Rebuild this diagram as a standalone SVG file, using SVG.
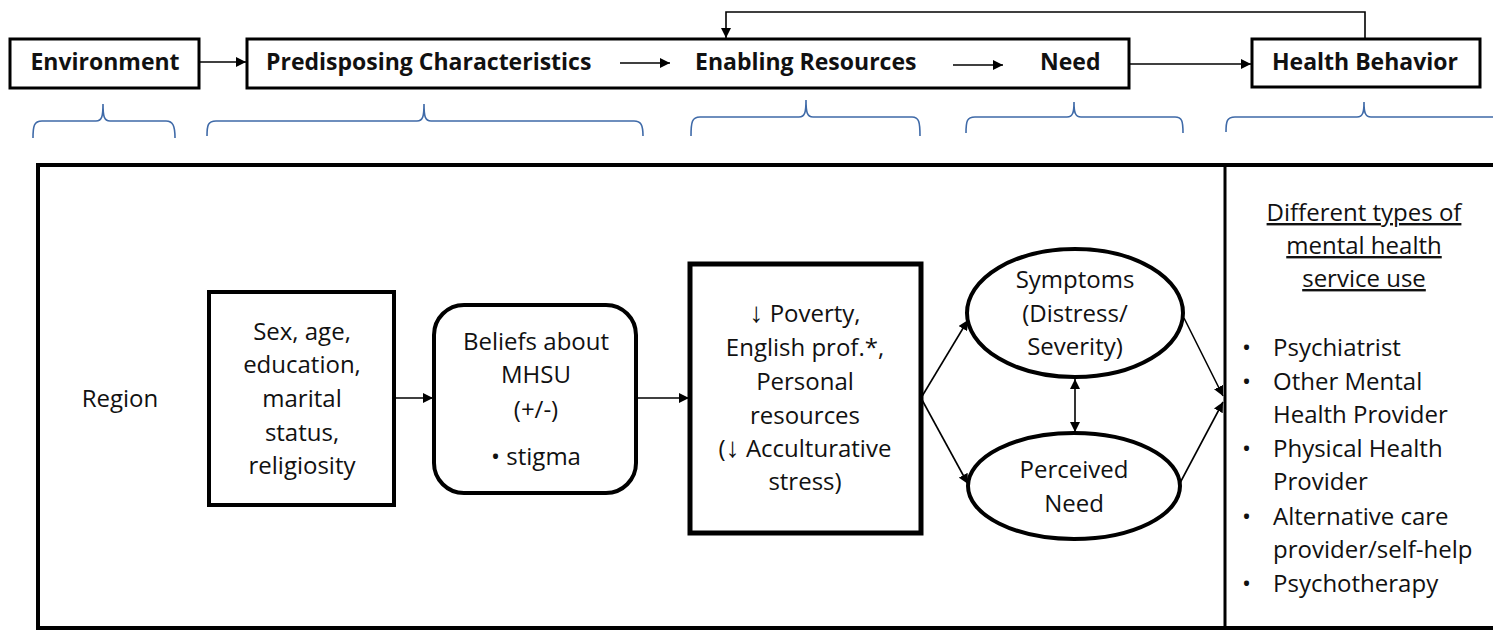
<svg xmlns="http://www.w3.org/2000/svg" width="1493" height="630" viewBox="0 0 1493 630">
<style>
text{font-family:"Open Sans","Liberation Sans",sans-serif;fill:#111}
.t{font-size:23px;font-weight:bold}
.b{font-size:24px}
.c{text-anchor:middle}
.ar{font-family:"Liberation Sans","DejaVu Sans",sans-serif;font-size:28px;fill:#111}
.box{fill:#fff;stroke:#000}
.ln{fill:none;stroke:#000;stroke-width:1.6}
.br{fill:none;stroke:#3f6aa8;stroke-width:1.6}
</style>
<defs>
<marker id="ah" viewBox="0 0 10 10" refX="10" refY="5" markerWidth="10" markerHeight="10" markerUnits="userSpaceOnUse" orient="auto-start-reverse">
<path d="M0,0 L10,5 L0,10 z" fill="#000"/>
</marker>
</defs>
<rect width="1493" height="630" fill="#fff"/>

<g id="outer">
<rect x="38" y="165" width="1480" height="463" fill="none" stroke="#000" stroke-width="4"/>
<line x1="1225" y1="165" x2="1225" y2="630" stroke="#000" stroke-width="3"/>
</g>

<g id="environment">
<rect class="box" x="10" y="39" width="189" height="49" stroke-width="3"/>
<text class="t c" x="105" y="70">Environment</text>
</g>
<g id="model-bar">
<rect class="box" x="247" y="39" width="882" height="49" stroke-width="3"/>
<text class="t" x="266" y="70">Predisposing Characteristics</text>
<text class="t" x="695" y="70">Enabling Resources</text>
<text class="t" x="1040" y="70">Need</text>
</g>
<g id="health-behavior">
<rect class="box" x="1252" y="39" width="228" height="48" stroke-width="3"/>
<text class="t c" x="1365" y="70">Health Behavior</text>
</g>

<g id="braces">
<path class="br" d="M33,138 C33,126 34,121 42,121 L96,121 C102,121 103,116 103,104 C103,116 104,121 110,121 L166,121 C173,121 175,126 175,138"/>
<path class="br" d="M207,136 C207,125 208,121 216,121 L417,121 C423,121 424,116 424,104 C424,116 425,121 431,121 L634,121 C641,121 643,125 643,136"/>
<path class="br" d="M691,136 C691,122 692,117 700,117 L799,117 C805,117 806,112 806,100 C806,112 807,117 813,117 L912,117 C919,117 920,122 920,136"/>
<path class="br" d="M966,133 C966,121 967,117 975,117 L1067,117 C1073,117 1074,112 1074,102 C1074,112 1075,117 1081,117 L1175,117 C1182,117 1183,121 1183,133"/>
<path class="br" d="M1226,132 C1226,121 1227,117 1235,117 L1357,117 C1363,117 1364,112 1364,102 C1364,112 1365,117 1371,117 L1500,117"/>
</g>

<g id="region">
<text class="b c" x="120" y="407">Region</text>
</g>
<g id="demographics">
<rect class="box" x="209" y="292" width="185" height="213" stroke-width="4"/>
<text class="b c" x="302" y="340">Sex, age,</text>
<text class="b c" x="302" y="373">education,</text>
<text class="b c" x="302" y="407">marital</text>
<text class="b c" x="302" y="441">status,</text>
<text class="b c" x="302" y="474">religiosity</text>
</g>
<g id="beliefs">
<rect class="box" x="434" y="305" width="202" height="188" rx="30" stroke-width="4"/>
<text class="b c" x="536" y="350">Beliefs about</text>
<text class="b c" x="536" y="383">MHSU</text>
<text class="b c" x="536" y="418">(+/-)</text>
<text class="b c" x="536" y="465">• stigma</text>
</g>
<g id="enabling">
<rect class="box" x="690" y="264" width="231" height="269" stroke-width="5"/>
<text class="b c" x="805" y="322"><tspan class="ar">↓</tspan> Poverty,</text>
<text class="b c" x="805" y="356">English prof.*,</text>
<text class="b c" x="805" y="390">Personal</text>
<text class="b c" x="805" y="424">resources</text>
<text class="b c" x="805" y="457">(<tspan class="ar">↓</tspan> Acculturative</text>
<text class="b c" x="805" y="490">stress)</text>
</g>
<g id="symptoms">
<ellipse class="box" cx="1075" cy="313" rx="108" ry="64" stroke-width="4"/>
<text class="b c" x="1075" y="288">Symptoms</text>
<text class="b c" x="1075" y="322">(Distress/</text>
<text class="b c" x="1075" y="355">Severity)</text>
</g>
<g id="perceived-need">
<ellipse class="box" cx="1074" cy="486" rx="106" ry="53" stroke-width="4"/>
<text class="b c" x="1074" y="478">Perceived</text>
<text class="b c" x="1074" y="512">Need</text>
</g>
<g id="service-use">
<text class="b c" x="1364" y="221" text-decoration="underline">Different types of</text>
<text class="b c" x="1364" y="254" text-decoration="underline">mental health</text>
<text class="b c" x="1364" y="287" text-decoration="underline">service use</text>
<g class="b">
<text x="1242" y="356">•</text><text x="1273" y="356">Psychiatrist</text>
<text x="1242" y="390">•</text><text x="1273" y="390">Other Mental</text>
<text x="1273" y="423">Health Provider</text>
<text x="1242" y="457">•</text><text x="1273" y="457">Physical Health</text>
<text x="1273" y="490">Provider</text>
<text x="1242" y="525">•</text><text x="1273" y="525">Alternative care</text>
<text x="1273" y="558">provider/self-help</text>
<text x="1242" y="592">•</text><text x="1273" y="592">Psychotherapy</text>
</g>
</g>

<g id="connectors">
<line class="ln" x1="199" y1="62" x2="246" y2="62" marker-end="url(#ah)"/>
<line class="ln" x1="620" y1="63" x2="670" y2="63" marker-end="url(#ah)"/>
<line class="ln" x1="953" y1="65" x2="1003" y2="65" marker-end="url(#ah)"/>
<line class="ln" x1="1129" y1="64" x2="1251" y2="64" stroke-width="2" marker-end="url(#ah)"/>
<polyline class="ln" points="1365,39 1365,12 726,12 726,38" marker-end="url(#ah)"/>
<line class="ln" x1="394" y1="398" x2="433" y2="398" marker-end="url(#ah)"/>
<line class="ln" x1="636" y1="398" x2="689" y2="398" marker-end="url(#ah)"/>
<line class="ln" x1="921" y1="398" x2="968" y2="320" marker-end="url(#ah)"/>
<line class="ln" x1="921" y1="398" x2="968" y2="484" marker-end="url(#ah)"/>
<line class="ln" x1="1075" y1="379" x2="1075" y2="432" marker-start="url(#ah)" marker-end="url(#ah)"/>
<line class="ln" x1="1184" y1="318" x2="1223" y2="396" marker-end="url(#ah)"/>
<line class="ln" x1="1180" y1="483" x2="1223" y2="402" marker-end="url(#ah)"/>
</g>
</svg>
